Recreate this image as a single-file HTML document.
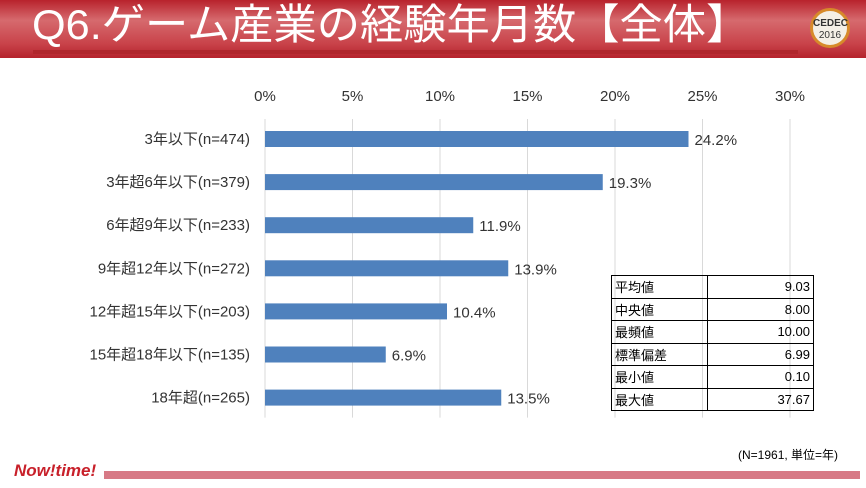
<!DOCTYPE html>
<html><head><meta charset="utf-8"><style>
body{margin:0;width:866px;height:488px;background:#fff;position:relative;overflow:hidden;font-family:"Liberation Sans","Noto Sans CJK JP",sans-serif}
#hdr{position:absolute;left:0;top:0;width:866px;height:58px;background:linear-gradient(#b8222c,#d66a6e 35%,#c9434a 75%,#b5232c)}
#title{position:absolute;left:32px;top:2px;color:#fff;font-size:42px;line-height:46px;white-space:nowrap;transform:scaleX(1.03);transform-origin:left}
#uline{position:absolute;left:33px;top:50px;width:765px;height:4px;background:#b0262c}
#logo{position:absolute;left:810px;top:8px;width:40px;height:40px;border-radius:50%;background:#f4efe6;border:3px solid #d78a2a;box-sizing:border-box;font-size:10px;text-align:center;color:#333;line-height:12px;padding-top:7px}
#tbl{position:absolute;left:611px;top:275px;border-collapse:collapse;font-size:13px}
#tbl td{border:1px solid #000;height:22.5px;padding:0 3px;box-sizing:border-box}
</style></head><body>
<div id="hdr">
<div id="uline"></div>
<div id="title">Q6.ゲーム産業の経験年月数【全体】</div>
<div id="logo"><b>CEDEC</b><br>2016</div>
</div>
<svg id="chart" width="866" height="488" style="position:absolute;left:0;top:0"></svg>
<table id="tbl">
<tr><td style="width:96px">平均値</td><td style="width:106px;text-align:right">9.03</td></tr>
<tr><td>中央値</td><td style="text-align:right">8.00</td></tr>
<tr><td>最頻値</td><td style="text-align:right">10.00</td></tr>
<tr><td>標準偏差</td><td style="text-align:right">6.99</td></tr>
<tr><td>最小値</td><td style="text-align:right">0.10</td></tr>
<tr><td>最大値</td><td style="text-align:right">37.67</td></tr>
</table>
<div style="position:absolute;left:738px;top:446px;font-size:12px">(N=1961, 単位=年)</div>
<div style="position:absolute;left:14px;top:461px;font-size:17px;font-weight:bold;font-style:italic;color:#c8202a">Now!time!</div>
<div style="position:absolute;left:104px;top:471px;width:756px;height:8px;background:#d77a86"></div>
<script>
const categories=["3年以下(n=474)","3年超6年以下(n=379)","6年超9年以下(n=233)","9年超12年以下(n=272)","12年超15年以下(n=203)","15年超18年以下(n=135)","18年超(n=265)"];
const values=[24.2,19.3,11.9,13.9,10.4,6.9,13.5];
const ticks=[0,5,10,15,20,25,30];
const svg=document.getElementById('chart');const NS='http://www.w3.org/2000/svg';
const x0=265,x1=790,xmax=30,y0=139,step=43.1,bh=16;
const X=v=>x0+(x1-x0)*v/xmax;const Y=i=>y0+i*step;
function mk(t,a,txt){const e=document.createElementNS(NS,t);for(const k in a)e.setAttribute(k,a[k]);if(txt!=null)e.textContent=txt;svg.appendChild(e);return e;}
ticks.forEach(t=>{const e=mk('text',{x:X(t),y:101,'text-anchor':'middle','font-size':15,fill:'#333'},t+'%');


const g=mk('line',{x1:X(t),x2:X(t),y1:Y(0)-20,y2:Y(6)+20,stroke:'#d9d9d9'});

});
categories.forEach((c,i)=>{
const r=mk('rect',{x:x0,y:Y(i)-bh/2,width:X(values[i])-x0,height:bh,fill:'#4f81bd'});


const l=mk('text',{x:250,y:Y(i)+5,'text-anchor':'end','font-size':15,fill:'#333'},c);


const v=mk('text',{x:X(values[i])+6,y:Y(i)+6,'font-size':15,fill:'#333'},values[i].toFixed(1)+'%');


});
</script>
</body></html>
